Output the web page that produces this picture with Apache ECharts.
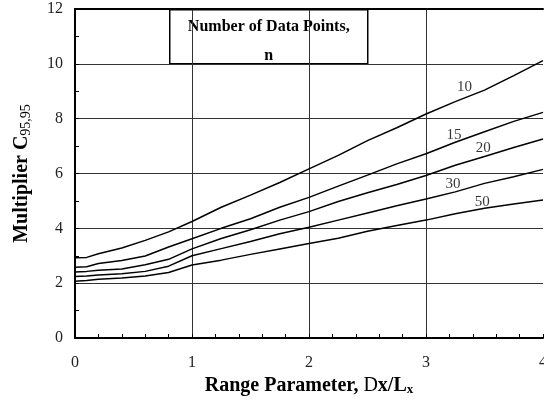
<!DOCTYPE html>
<html><head><meta charset="utf-8">
<script src="https://cdn.jsdelivr.net/npm/echarts@6/dist/echarts.min.js"></script>
<style>html,body{margin:0;padding:0;background:#fff}#c{width:544px;height:413px}</style>
</head><body><div id="c"></div>
<script>
const xs  = [0, 0.1, 0.2, 0.4, 0.6, 0.8, 1.0, 1.25, 1.5, 1.75, 2.0, 2.25, 2.5, 2.75, 3.0, 3.25, 3.5, 3.75, 4.0];
const n10 = [2.93, 2.94, 3.07, 3.28, 3.56, 3.87, 4.25, 4.77, 5.21, 5.67, 6.17, 6.66, 7.20, 7.67, 8.17, 8.62, 9.04, 9.57, 10.12];
const n15 = [2.58, 2.60, 2.72, 2.83, 2.99, 3.32, 3.62, 4.00, 4.35, 4.77, 5.13, 5.54, 5.94, 6.35, 6.72, 7.14, 7.52, 7.90, 8.23];
const n20 = [2.41, 2.43, 2.47, 2.52, 2.67, 2.87, 3.25, 3.63, 3.95, 4.30, 4.61, 4.98, 5.30, 5.60, 5.93, 6.30, 6.62, 6.95, 7.26];
const n30 = [2.24, 2.26, 2.30, 2.34, 2.43, 2.62, 3.00, 3.26, 3.52, 3.80, 4.04, 4.30, 4.56, 4.82, 5.07, 5.33, 5.64, 5.88, 6.15];
const n50 = [2.07, 2.10, 2.14, 2.19, 2.26, 2.39, 2.66, 2.84, 3.05, 3.25, 3.45, 3.64, 3.89, 4.10, 4.30, 4.53, 4.73, 4.89, 5.03];
const seriesNames = ['10', '15', '20', '30', '50'];
const labelX = [3.33, 3.24, 3.49, 3.23, 3.48];
const labelY = [9.15, 7.40, 6.91, 5.60, 4.94];
const xTicks = [0, 1, 2, 3, 4];
const yTicks = [0, 2, 4, 6, 8, 10, 12];

const serif = '"Liberation Serif", "Times New Roman", serif';
const allY = [n10, n15, n20, n30, n50];

const chart = echarts.init(document.getElementById('c'), null, {renderer: 'canvas'});
const lineSeries = allY.map((arr, i) => ({
  name: seriesNames[i],
  type: 'line',
  data: xs.map((x, j) => [x, arr[j]]),
  symbol: 'none',
  smooth: false,
  lineStyle: {color: '#000', width: 1.5},
  z: 3
}));
const labelSeries = {
  type: 'scatter',
  symbolSize: 0,
  data: labelX.map((x, i) => ({value: [x, labelY[i]], name: seriesNames[i]})),
  label: {show: true, position: 'inside', formatter: p => p.name,
    fontFamily: serif, fontSize: 15, color: '#000'},
  z: 4
};

chart.setOption({
  animation: false,
  backgroundColor: '#fff',
  grid: {left: 75, right: 1, top: 9, bottom: 75, outerBoundsMode: 'none', containLabel: false},
  xAxis: [{
    type: 'value', min: xTicks[0], max: xTicks[xTicks.length - 1], interval: 1,
    axisLine: {show: true, onZero: false, lineStyle: {color: '#000', width: 2}},
    axisTick: {show: true, inside: true, length: 4, lineStyle: {color: '#000'}},
    minorTick: {show: true, splitNumber: 5, length: 4, lineStyle: {color: '#000'}},
    splitLine: {show: true, showMinLine: false, showMaxLine: false, lineStyle: {color: '#333', width: 1}},
    axisLabel: {fontFamily: serif, fontSize: 16, color: '#222', margin: 17, hideOverlap: false},
    name: '{b|Range Parameter, }{d|D}{b|x/L}{s|x}',
    nameLocation: 'middle', nameGap: 37,
    nameTextStyle: {rich: {
      b: {fontFamily: serif, fontWeight: 'bold', fontSize: 20, color: '#000'},
      d: {fontFamily: serif, fontWeight: 'normal', fontSize: 20, color: '#000'},
      s: {fontFamily: serif, fontWeight: 'bold', fontSize: 13, color: '#000', padding: [8, 0, 0, 0]}
    }}
  }, {
    type: 'value', position: 'top', min: 0, max: 4,
    axisLine: {show: true, onZero: false, lineStyle: {color: '#000', width: 2}},
    axisTick: {show: false}, axisLabel: {show: false}, splitLine: {show: false}
  }],
  yAxis: {
    type: 'value', min: yTicks[0], max: yTicks[yTicks.length - 1], interval: 2,
    axisLine: {show: true, onZero: false, lineStyle: {color: '#000', width: 2}},
    axisTick: {show: true, inside: true, length: 4, lineStyle: {color: '#000'}},
    minorTick: {show: true, splitNumber: 2, length: 4, lineStyle: {color: '#000'}},
    splitLine: {show: true, showMinLine: false, showMaxLine: false, lineStyle: {color: '#333', width: 1}},
    axisLabel: {fontFamily: serif, fontSize: 16, color: '#222', margin: 12},
    name: '{b|Multiplier C}{s|95,95}',
    nameLocation: 'middle', nameGap: 42, nameRotate: 90,
    nameTextStyle: {rich: {
      b: {fontFamily: serif, fontWeight: 'bold', fontSize: 20, color: '#000'},
      s: {fontFamily: serif, fontWeight: 'normal', fontSize: 14, color: '#000', padding: [8, 0, 0, 0]}
    }}
  },
  graphic: [{
    type: 'group', left: 169, top: 9, z: 10,
    children: [
      {type: 'rect', shape: {x: 0, y: 0, width: 198, height: 54},
        style: {fill: '#fff', stroke: '#000', lineWidth: 1.5}},
      {type: 'text', x: 99, y: 25, style: {text: 'Number of Data Points,', fontFamily: serif,
        fontWeight: 'bold', fontSize: 16, fill: '#000', align: 'center', verticalAlign: 'bottom'}},
      {type: 'text', x: 99, y: 54, style: {text: 'n', fontFamily: serif,
        fontWeight: 'bold', fontSize: 16, fill: '#000', align: 'center', verticalAlign: 'bottom'}}
    ]
  }],
  series: [...lineSeries, labelSeries]
});
</script></body></html>
